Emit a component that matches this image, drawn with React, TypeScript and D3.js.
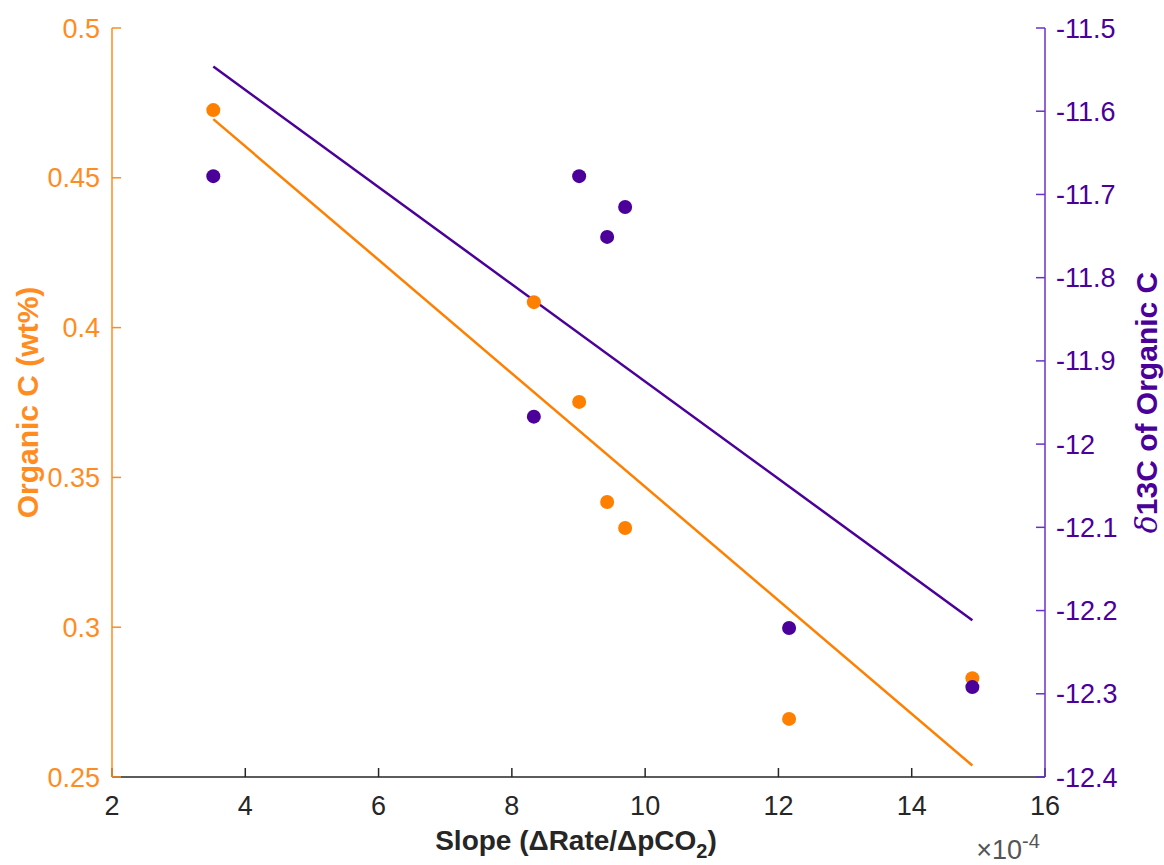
import React from "react";
import * as d3 from "d3";

const slopeX: number[] = [3.52, 8.33, 9.01, 9.43, 9.70, 12.16, 14.91];
const organicC: number[] = [0.4726, 0.4085, 0.3752, 0.3418, 0.3331, 0.2694, 0.2830];
const d13C: number[] = [-11.678, -11.967, -11.678, -11.751, -11.715, -12.221, -12.292];
const xTicks: number[] = [2, 4, 6, 8, 10, 12, 14, 16];
const leftTicks: number[] = [0.25, 0.3, 0.35, 0.4, 0.45, 0.5];
const rightTicks: number[] = [-12.4, -12.3, -12.2, -12.1, -12, -11.9, -11.8, -11.7, -11.6, -11.5];

const W = 1164, H = 865;
const L = 112, R = 1045, T = 28, B = 777;
const ORANGE = "#FF8000";
const ORANGE_AX = "#FF8C1F";
const PURPLE = "#4A0099";
const PURPLE_AX = "#6A30C8";
const FONT = "'Liberation Sans', Arial, Helvetica, sans-serif";

function fit(xs: number[], ys: number[]) {
  const mx = d3.mean(xs)!, my = d3.mean(ys)!;
  let sxy = 0, sxx = 0;
  xs.forEach((x, i) => { sxy += (x - mx) * (ys[i] - my); sxx += (x - mx) * (x - mx); });
  const b = sxy / sxx;
  return (x: number) => my + b * (x - mx);
}

export default function App() {
  const x = d3.scaleLinear().domain([2, 16]).range([L, R]);
  const yL = d3.scaleLinear().domain([0.25, 0.5]).range([B, T]);
  const yR = d3.scaleLinear().domain([-12.4, -11.5]).range([B, T]);
  const fo = fit(slopeX, organicC);
  const fp = fit(slopeX, d13C);
  const xmin = d3.min(slopeX)!, xmax = d3.max(slopeX)!;
  const line = d3.line<[number, number]>();
  const fmtR = (v: number) => (Number.isInteger(v) ? String(v) : v.toFixed(1));

  return (
    <svg width={W} height={H} style={{ position: "absolute", left: 0, top: 0, background: "#fff" }}>
      {/* fit lines */}
      <path d={line([[x(xmin), yR(fp(xmin))], [x(xmax), yR(fp(xmax))]])!} stroke={PURPLE} strokeWidth={2.5} fill="none" />
      <path d={line([[x(xmin), yL(fo(xmin))], [x(xmax), yL(fo(xmax))]])!} stroke={ORANGE} strokeWidth={2.5} fill="none" />
      {slopeX.map((v, i) => (
        <circle key={"o" + i} cx={x(v)} cy={yL(organicC[i])} r={7} fill={ORANGE} />
      ))}
      {slopeX.map((v, i) => (
        <circle key={"p" + i} cx={x(v)} cy={yR(d13C[i])} r={7} fill={PURPLE} />
      ))}

      {/* x axis */}
      <line x1={L} x2={R} y1={B} y2={B} stroke="#262626" strokeWidth={1.5} />
      {xTicks.map((t) => (
        <g key={"x" + t}>
          <line x1={x(t)} x2={x(t)} y1={B} y2={B - 9} stroke="#262626" strokeWidth={1.5} />
          <text x={x(t)} y={B + 38} textAnchor="middle" fontFamily={FONT} fontSize={27} fill="#262626">{t}</text>
        </g>
      ))}
      <text x={576} y={850} textAnchor="middle" fontFamily={FONT} fontSize={28} fontWeight="bold" fill="#262626">
        Slope (ΔRate/ΔpCO<tspan dy={8} fontSize={20}>2</tspan><tspan dy={-8}>)</tspan>
      </text>
      <text x={1008} y={859} textAnchor="middle" fontFamily={FONT} fontSize={27} fill="#555">
        ×10<tspan dy={-11} fontSize={20}>-4</tspan>
      </text>

      {/* left axis */}
      <line x1={L} x2={L} y1={T} y2={B} stroke={ORANGE_AX} strokeWidth={1.5} />
      {leftTicks.map((t) => (
        <g key={"l" + t}>
          <line x1={L} x2={L + 9} y1={yL(t)} y2={yL(t)} stroke={ORANGE_AX} strokeWidth={1.5} />
          <text x={L - 12} y={yL(t) + 9.5} textAnchor="end" fontFamily={FONT} fontSize={27} fill={ORANGE_AX}>{String(t)}</text>
        </g>
      ))}
      <text transform={`translate(38,${(T + B) / 2}) rotate(-90)`} textAnchor="middle" fontFamily={FONT} fontSize={30} fontWeight="bold" fill={ORANGE_AX}>
        Organic C (wt%)
      </text>

      {/* right axis */}
      <line x1={R} x2={R} y1={T} y2={B} stroke={PURPLE_AX} strokeWidth={1.5} />
      {rightTicks.map((t) => (
        <g key={"r" + t}>
          <line x1={R} x2={R - 9} y1={yR(t)} y2={yR(t)} stroke={PURPLE_AX} strokeWidth={1.5} />
          <text x={R + 11} y={yR(t) + 9.5} textAnchor="start" fontFamily={FONT} fontSize={27} fill={PURPLE}>{fmtR(t)}</text>
        </g>
      ))}
      <text transform={`translate(1157,${(T + B) / 2}) rotate(-90)`} textAnchor="middle" fontFamily={FONT} fontSize={30} fontWeight="bold" fill={PURPLE}>
        <tspan fontStyle="italic" fontWeight="normal" fontFamily="'DejaVu Serif', serif">δ</tspan>13C of Organic C
      </text>
    </svg>
  );
}
